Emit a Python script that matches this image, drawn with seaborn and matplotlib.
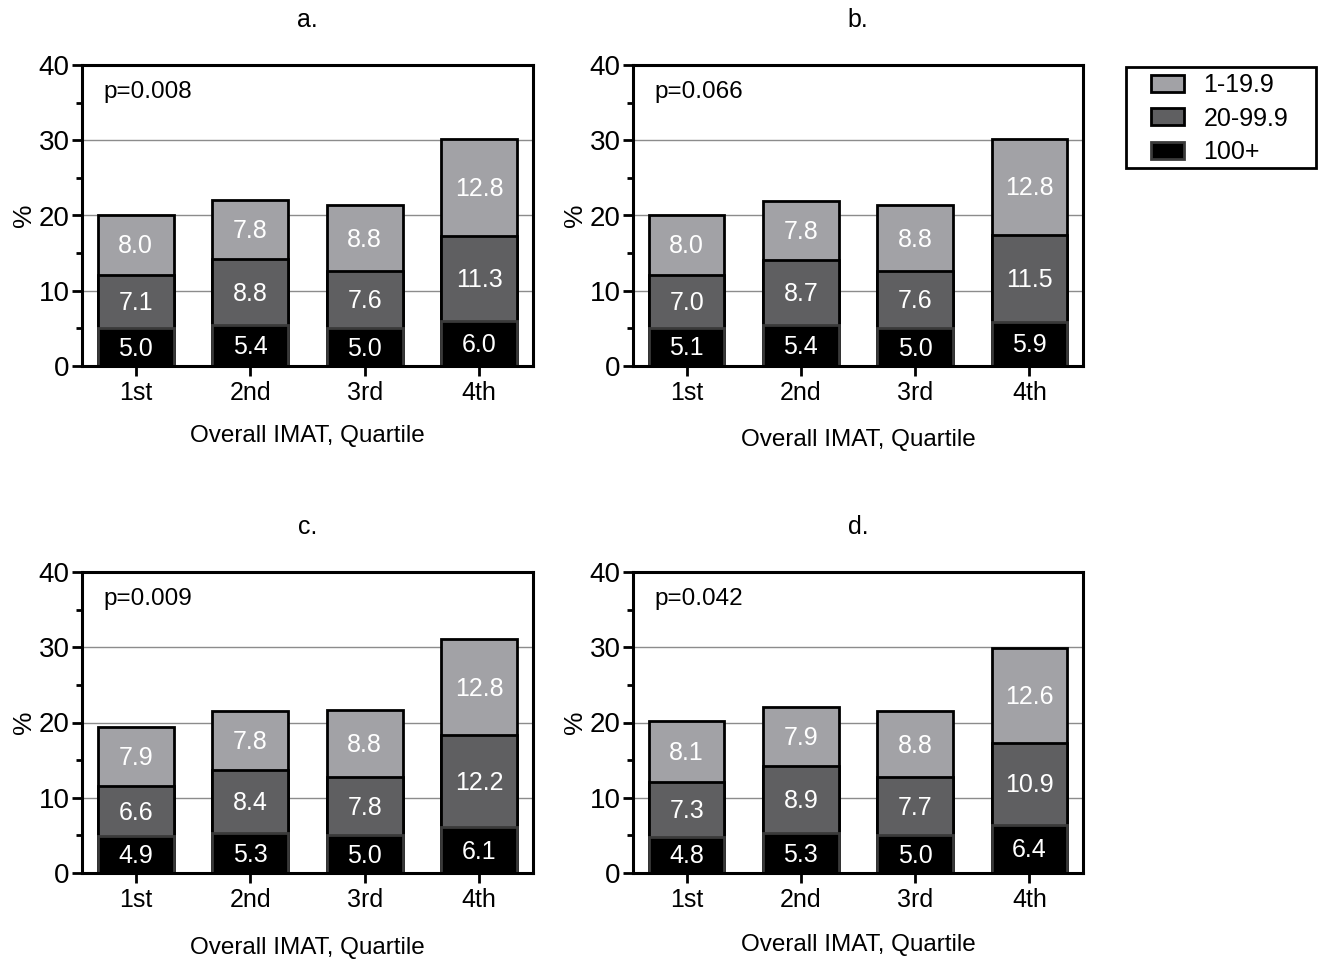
import matplotlib
matplotlib.use("Agg")
import matplotlib.pyplot as plt
from matplotlib.patches import Patch, Rectangle
from matplotlib.ticker import MultipleLocator
import numpy as np
import pandas as pd
import seaborn as sns

sns.set_style("white")
plt.rcParams["font.family"] = ["Liberation Sans", "DejaVu Sans"]
plt.rcParams.update({"text.color": "black", "axes.labelcolor": "black",
                     "xtick.color": "black", "ytick.color": "black"})

quartiles = ["1st", "2nd", "3rd", "4th"]
series_names = ["1-19.9", "20-99.9", "100+"]
panel_titles = ["a.", "b.", "c.", "d."]
p_values = ["p=0.008", "p=0.066", "p=0.009", "p=0.042"]

# segment values per panel (bottom: 100+, middle: 20-99.9, top: 1-19.9)
a_100 = [5.0, 5.4, 5.0, 6.0]
a_20 = [7.1, 8.8, 7.6, 11.3]
a_1 = [8.0, 7.8, 8.8, 12.8]

b_100 = [5.1, 5.4, 5.0, 5.9]
b_20 = [7.0, 8.7, 7.6, 11.5]
b_1 = [8.0, 7.8, 8.8, 12.8]

c_100 = [4.9, 5.3, 5.0, 6.1]
c_20 = [6.6, 8.4, 7.8, 12.2]
c_1 = [7.9, 7.8, 8.8, 12.8]

d_100 = [4.8, 5.3, 5.0, 6.4]
d_20 = [7.3, 8.9, 7.7, 10.9]
d_1 = [8.1, 7.9, 8.8, 12.6]

panels = [(a_100, a_20, a_1), (b_100, b_20, b_1), (c_100, c_20, c_1), (d_100, d_20, d_1)]

col_light = "#a2a2a6"
col_dark = "#5f5f61"
col_black = "#000000"

W, H = 1323, 960
fig = plt.figure(figsize=(W / 100, H / 100), dpi=100)

# axes boxes in pixels: left, top, right, bottom
boxes = [(82, 65, 533, 366), (633, 65, 1083, 366), (82, 572, 533, 873), (633, 572, 1083, 873)]
xlabel_pad = [14, 17, 18, 16]

for i, ((v100, v20, v1), (l, t, r, b)) in enumerate(zip(panels, boxes)):
    ax = fig.add_axes([l / W, 1 - b / H, (r - l) / W, (b - t) / H])
    v100 = np.array(v100)
    v20 = np.array(v20)
    v1 = np.array(v1)
    df = pd.DataFrame({
        "quartile": quartiles,
        "top": v100 + v20 + v1,
        "mid": v100 + v20,
        "bot": v100,
    })
    ax.set_axisbelow(True)
    ax.yaxis.grid(True, which="major", color="#8c8c8c", linewidth=1.0)
    for col, colr, ec in [("top", col_light, "black"), ("mid", col_dark, "black"), ("bot", col_black, "#3a3a3a")]:
        sns.barplot(data=df, x="quartile", y=col, order=quartiles, color=colr, saturation=1,
                    width=0.66, edgecolor=ec, linewidth=2.0, ax=ax, errorbar=None)
    # value labels centred in each segment
    for k in range(len(quartiles)):
        segs = [(0, v100[k]), (v100[k], v20[k]), (v100[k] + v20[k], v1[k])]
        for base, h in segs:
            ax.text(k, base + h / 2 - 0.2, f"{h:.1f}", ha="center", va="center",
                    color="white", fontsize=18)
    ax.set_xlim(-0.47, 3.47)
    ax.set_ylim(0, 40)
    ax.yaxis.set_major_locator(MultipleLocator(10))
    ax.yaxis.set_minor_locator(MultipleLocator(5))
    for s in ax.spines.values():
        s.set_visible(True)
        s.set_linewidth(2.2)
        s.set_color("black")
    ax.tick_params(axis="y", which="major", direction="out", length=7, width=2.0,
                   labelsize=20, left=True, pad=2)
    ax.tick_params(axis="y", which="minor", direction="out", length=4, width=2.0, left=True)
    ax.tick_params(axis="x", which="major", direction="out", length=7, width=2.0,
                   labelsize=18, bottom=True, pad=4)
    ax.set_ylabel("%", fontsize=19, labelpad=2)
    ax.set_xlabel("Overall IMAT, Quartile", fontsize=17.5, labelpad=xlabel_pad[i])
    ax.set_title(panel_titles[i], fontsize=18, pad=27)
    ax.text(0.047, 0.91, p_values[i], transform=ax.transAxes, ha="left", va="center", fontsize=17.5)

# legend entries with a plain rectangular frame around them
handles = [
    Patch(facecolor=col_light, edgecolor="black", linewidth=2.0, label=series_names[0]),
    Patch(facecolor=col_dark, edgecolor="black", linewidth=2.0, label=series_names[1]),
    Patch(facecolor=col_black, edgecolor="#3a3a3a", linewidth=2.0, label=series_names[2]),
]
fig.legend(handles=handles, loc="upper left", bbox_to_anchor=(1151 / W, 1 - 73 / H),
           fontsize=18, frameon=False, handlelength=1.3, handleheight=0.65,
           handletextpad=0.8, borderpad=0, labelspacing=0.38, borderaxespad=0)
fig.add_artist(Rectangle((1126 / W, 1 - 168 / H), 190 / W, 101 / H, transform=fig.transFigure,
                         facecolor="none", edgecolor="black", linewidth=2.0))

fig.savefig("out.png", dpi=100)
